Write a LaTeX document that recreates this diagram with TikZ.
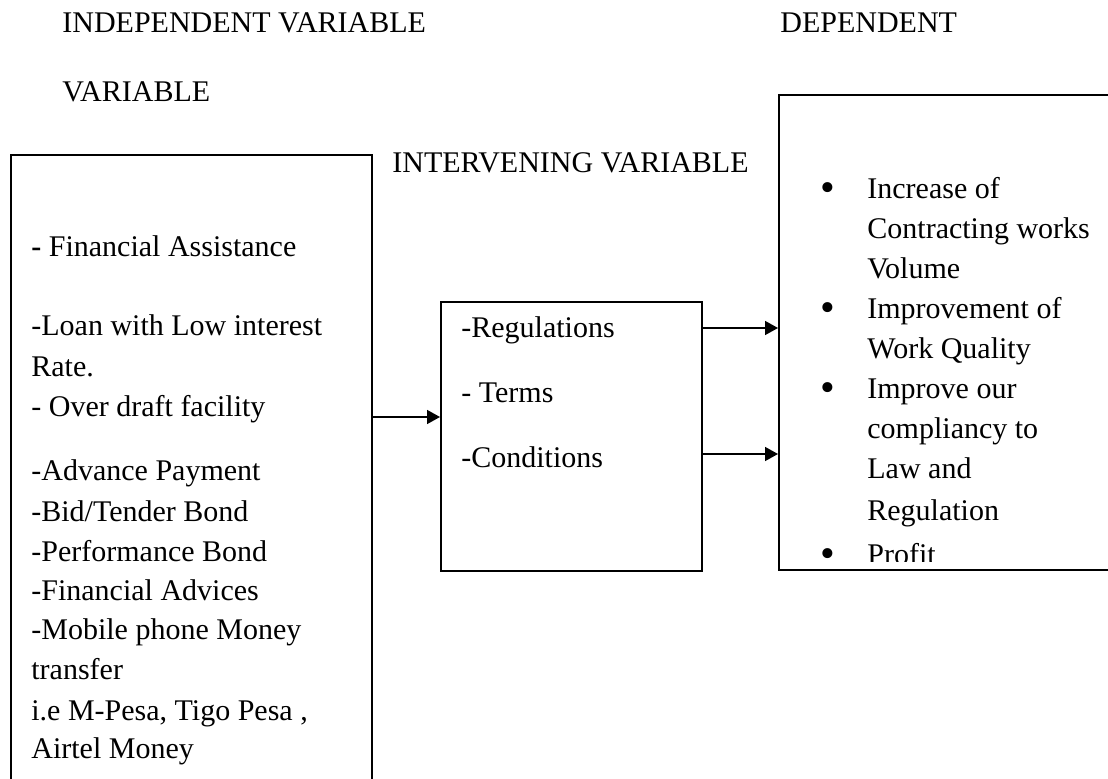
\documentclass[tikz,border=0pt]{standalone}
\usepackage{fontspec}
\setmainfont{Liberation Serif}
\usetikzlibrary{arrows.meta,calc,positioning}

\begin{document}
\begin{tikzpicture}[x=0.5pt,y=-0.5pt,
  box/.style={draw,line width=1pt,inner sep=0pt},
  txt/.style={anchor=base west,inner sep=0pt,font=\fontsize{15}{20}\selectfont},
  bullet/.style={anchor=base west,inner sep=0pt,font=\fontsize{21}{20}\selectfont},
  arr/.style={-{Triangle[length=6.5pt,width=7pt]},line width=0.75pt},
]
  \useasboundingbox (0,0) rectangle (1108,779);
  \clip (0,0) rectangle (1108,779);

  % headings
  \node[txt] (h-ind) at (62,33) {INDEPENDENT VARIABLE};
  \node[txt] (h-var) at (62,102) {VARIABLE};
  \node[txt] (h-dep) at (780,33) {DEPENDENT};
  \node[txt] (h-int) at (392,173) {INTERVENING VARIABLE};

  % boxes
  \node[box,minimum width=180.5pt,minimum height=372.5pt] (indep) at (191.5,527.5) {};
  \node[box,minimum width=130.5pt,minimum height=134.5pt] (interv) at (571.5,436.5) {};
  \node[box,minimum width=260.5pt,minimum height=237.5pt] (dep) at (1039.5,332.5) {};

  % independent variable
  \foreach \y/\t [count=\i] in {257/{\textbf{-} Financial Assistance},
      336/{-Loan with Low interest},377/{Rate.},417/{- Over draft facility},
      481/{-Advance Payment},522/{-Bid/Tender Bond},562/{-Performance Bond},
      601/{-Financial Advices},640/{-Mobile phone Money},680/{transfer},
      720/{i.e M-Pesa, Tigo Pesa ,},759/{Airtel Money}}
    \node[txt] (ind-\i) at (31,\y) {\t};

  % intervening variable
  \foreach \y/\t [count=\i] in {338/{-Regulations},403/{- Terms},468/{-Conditions}}
    \node[txt] (int-\i) at (461,\y) {\t};

  % dependent variable
  \begin{scope}
    \clip (779,95) rectangle (1108,562);
    \foreach \y [count=\i] in {199,319,399,565}
      \node[bullet] (bul-\i) at (820,\y) {\raisebox{-1.2pt}{•}};
    \foreach \y/\t [count=\i] in {199/{Increase of},239/{Contracting works},
        279/{Volume},319/{Improvement of},359/{Work Quality},399/{Improve our},
        439/{compliancy to},479/{Law and},521/{Regulation},565/{Profit}}
      \node[txt] (dep-\i) at (867,\y) {\t};
  \end{scope}

  % arrows
  \coordinate (int-in) at ($(interv.west)+(0,-19.5)$);
  \coordinate (int-out1) at ($(interv.east)+(0,-108.5)$);
  \coordinate (int-out2) at ($(interv.east)+(0,17.5)$);
  \draw[arr] (indep.east |- int-in) -- (int-in);
  \draw[arr] (int-out1) -- (dep.west |- int-out1);
  \draw[arr] (int-out2) -- (dep.west |- int-out2);
\end{tikzpicture}
\end{document}
